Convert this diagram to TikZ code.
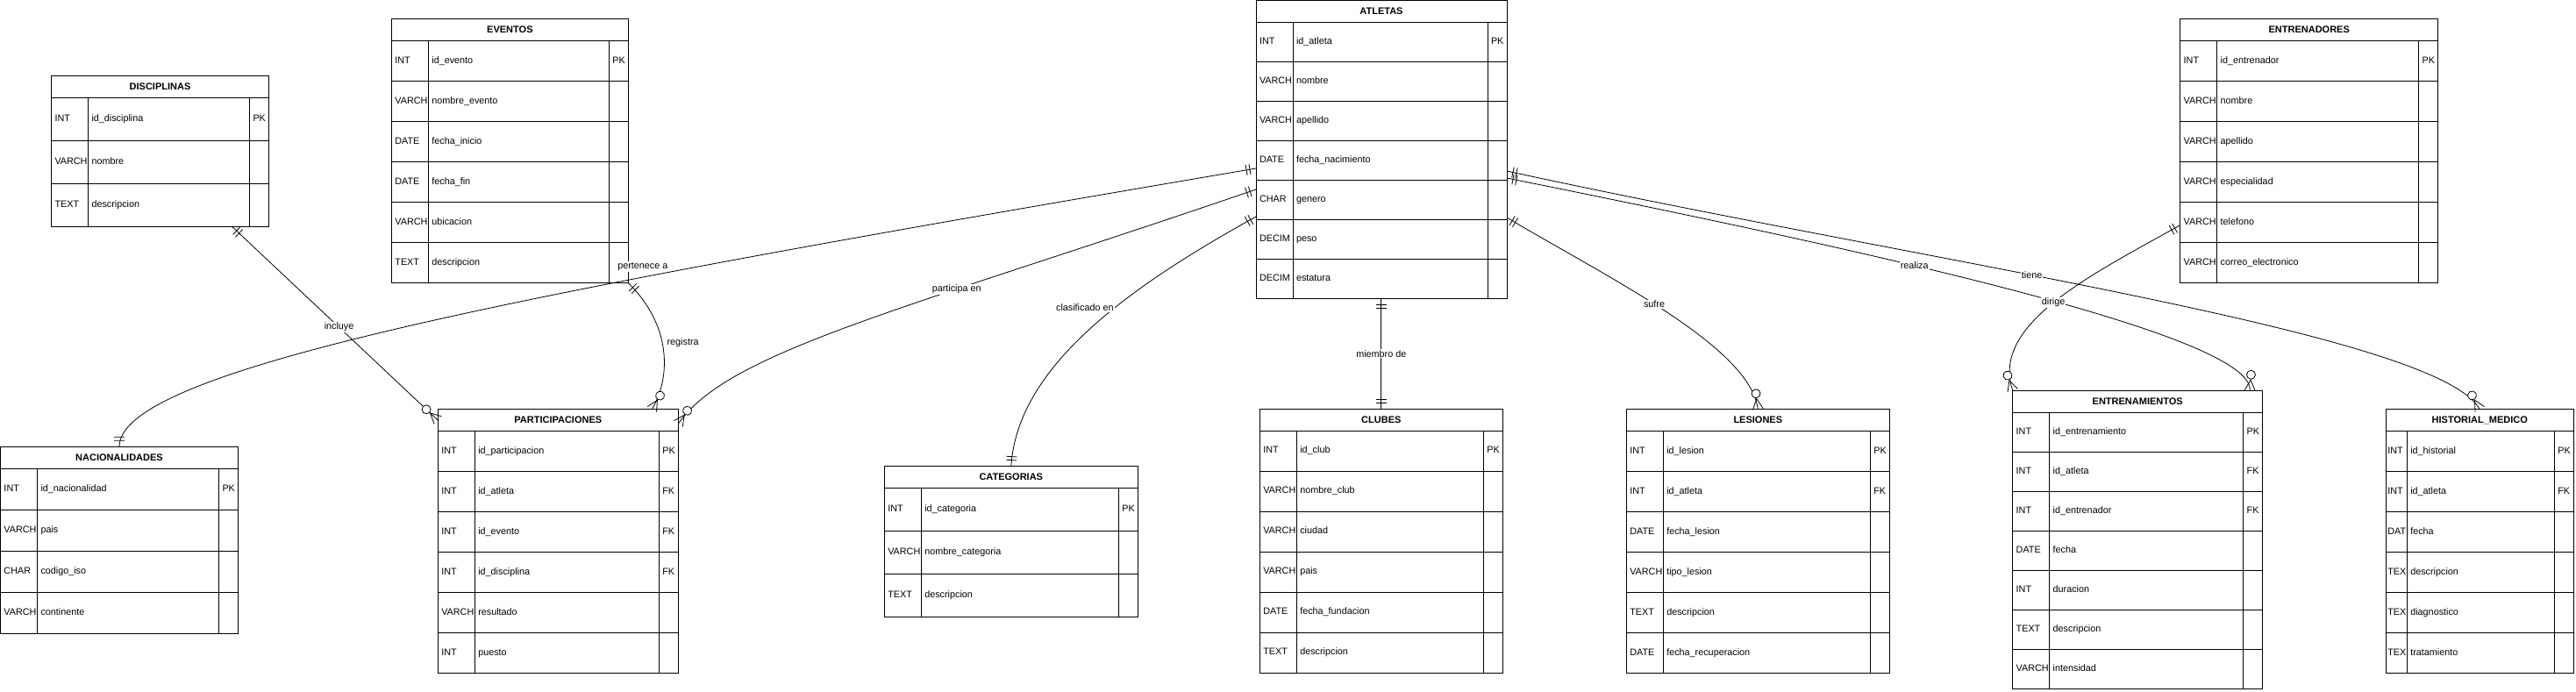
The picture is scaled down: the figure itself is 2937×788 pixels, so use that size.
\documentclass[tikz,border=0pt]{standalone}
\usepackage{fontspec}
\setmainfont{Liberation Sans}
\usetikzlibrary{positioning,decorations.markings}

\begin{document}
\begin{tikzpicture}[
        x=1pt, y=-1pt,
        font=\fontsize{10.8}{13}\selectfont,
        tablehead/.style={
            draw, line width=0.9pt, anchor=north west, outer sep=0pt,
            minimum height=25pt, font=\fontsize{11}{13}\selectfont\bfseries
        },
        cell/.style={
            draw, line width=0.9pt, outer sep=0pt,
            inner xsep=4pt, inner ysep=0pt, align=left,
            text height=8pt, text depth=2.5pt
        },
        tcell/.style={cell, anchor=north west},
        rel/.style={line width=0.8pt},
        lbl/.style={fill=white, inner sep=1pt},
        mand start/.style={postaction={decorate, decoration={markings,
            mark=at position 0.1pt with {\draw[line width=0.8pt] (7pt,-6pt) -- (7pt,6pt) (11pt,-6pt) -- (11pt,6pt);}}}},
        mand end/.style={postaction={decorate, decoration={markings,
            mark=at position -0.1pt with {\draw[line width=0.8pt] (-7pt,-6pt) -- (-7pt,6pt) (-11pt,-6pt) -- (-11pt,6pt);}}}},
        many end/.style={postaction={decorate, decoration={markings,
            mark=at position -0.1pt with {\draw[line width=0.8pt] (0pt,-6pt) -- (-12pt,0pt) -- (0pt,6pt);
                \draw[line width=0.8pt, fill=white] (-18pt,0pt) circle (5pt);}}}}
    ]
    \useasboundingbox (0,0) rectangle (2937,788);

    % DISCIPLINAS
    \node[tablehead, minimum width=248pt] (disc) at (58.5,86.3) {DISCIPLINAS};
    \foreach \ty/\fd/\ky [count=\i] in {INT/id\_disciplina/PK, VARCH/nombre/{}, TEXT/descripcion/{}} {
        \node[tcell, text width=34pt, minimum height=49pt] (disc-t\i) at ([yshift={-(\i-1)*49pt}]disc.south west) {\ty};
        \node[cell, text width=176pt, minimum height=49pt, right=0pt of disc-t\i] (disc-f\i) {\fd};
        \node[cell, text width=14pt, minimum height=49pt, right=0pt of disc-f\i] (disc-k\i) {\ky};
    }

    % EVENTOS
    \node[tablehead, minimum width=270pt] (evento) at (446.4,21.7) {EVENTOS};
    \foreach \ty/\fd/\ky [count=\i] in {INT/id\_evento/PK, VARCH/nombre\_evento/{}, DATE/fecha\_inicio/{},
        DATE/fecha\_fin/{}, VARCH/ubicacion/{}, TEXT/descripcion/{}} {
        \node[tcell, text width=34pt, minimum height=46pt] (evento-t\i) at ([yshift={-(\i-1)*46pt}]evento.south west) {\ty};
        \node[cell, text width=198pt, minimum height=46pt, right=0pt of evento-t\i] (evento-f\i) {\fd};
        \node[cell, text width=14pt, minimum height=46pt, right=0pt of evento-f\i] (evento-k\i) {\ky};
    }

    % ATLETAS
    \node[tablehead, minimum width=286pt] (atleta) at (1432,0.5) {ATLETAS};
    \foreach \ty/\fd/\ky [count=\i] in {INT/id\_atleta/PK, VARCH/nombre/{}, VARCH/apellido/{},
        DATE/fecha\_nacimiento/{}, CHAR/genero/{}, DECIM/peso/{}, DECIM/estatura/{}} {
        \node[tcell, text width=34pt, minimum height=45pt] (atleta-t\i) at ([yshift={-(\i-1)*45pt}]atleta.south west) {\ty};
        \node[cell, text width=214pt, minimum height=45pt, right=0pt of atleta-t\i] (atleta-f\i) {\fd};
        \node[cell, text width=14pt, minimum height=45pt, right=0pt of atleta-f\i] (atleta-k\i) {\ky};
    }

    % ENTRENADORES
    \node[tablehead, minimum width=294pt] (coach) at (2485.7,21.7) {ENTRENADORES};
    \foreach \ty/\fd/\ky [count=\i] in {INT/id\_entrenador/PK, VARCH/nombre/{}, VARCH/apellido/{},
        VARCH/especialidad/{}, VARCH/telefono/{}, VARCH/correo\_electronico/{}} {
        \node[tcell, text width=34pt, minimum height=46pt] (coach-t\i) at ([yshift={-(\i-1)*46pt}]coach.south west) {\ty};
        \node[cell, text width=222pt, minimum height=46pt, right=0pt of coach-t\i] (coach-f\i) {\fd};
        \node[cell, text width=14pt, minimum height=46pt, right=0pt of coach-f\i] (coach-k\i) {\ky};
    }

    % NACIONALIDADES
    \node[tablehead, minimum width=271pt] (nac) at (0.5,509.3) {NACIONALIDADES};
    \foreach \ty/\fd/\ky [count=\i] in {INT/id\_nacionalidad/PK, VARCH/pais/{}, CHAR/codigo\_iso/{}, VARCH/continente/{}} {
        \node[tcell, text width=34pt, minimum height=47pt] (nac-t\i) at ([yshift={-(\i-1)*47pt}]nac.south west) {\ty};
        \node[cell, text width=199pt, minimum height=47pt, right=0pt of nac-t\i] (nac-f\i) {\fd};
        \node[cell, text width=14pt, minimum height=47pt, right=0pt of nac-f\i] (nac-k\i) {\ky};
    }

    % PARTICIPACIONES
    \node[tablehead, minimum width=274pt] (part) at (499.3,466.7) {PARTICIPACIONES};
    \foreach \ty/\fd/\ky [count=\i] in {INT/id\_participacion/PK, INT/id\_atleta/FK, INT/id\_evento/FK,
        INT/id\_disciplina/FK, VARCH/resultado/{}, INT/puesto/{}} {
        \node[tcell, text width=34pt, minimum height=46pt] (part-t\i) at ([yshift={-(\i-1)*46pt}]part.south west) {\ty};
        \node[cell, text width=202pt, minimum height=46pt, right=0pt of part-t\i] (part-f\i) {\fd};
        \node[cell, text width=14pt, minimum height=46pt, right=0pt of part-f\i] (part-k\i) {\ky};
    }

    % CATEGORIAS
    \node[tablehead, minimum width=289pt] (cat) at (1008.3,531.7) {CATEGORIAS};
    \foreach \ty/\fd/\ky [count=\i] in {INT/id\_categoria/PK, VARCH/nombre\_categoria/{}, TEXT/descripcion/{}} {
        \node[tcell, text width=34pt, minimum height=49pt] (cat-t\i) at ([yshift={-(\i-1)*49pt}]cat.south west) {\ty};
        \node[cell, text width=217pt, minimum height=49pt, right=0pt of cat-t\i] (cat-f\i) {\fd};
        \node[cell, text width=14pt, minimum height=49pt, right=0pt of cat-f\i] (cat-k\i) {\ky};
    }

    % CLUBES
    \node[tablehead, minimum width=277pt] (club) at (1436.3,466) {CLUBES};
    \foreach \ty/\fd/\ky [count=\i] in {INT/id\_club/PK, VARCH/nombre\_club/{}, VARCH/ciudad/{},
        VARCH/pais/{}, DATE/fecha\_fundacion/{}, TEXT/descripcion/{}} {
        \node[tcell, text width=34pt, minimum height=46pt] (club-t\i) at ([yshift={-(\i-1)*46pt}]club.south west) {\ty};
        \node[cell, text width=205pt, minimum height=46pt, right=0pt of club-t\i] (club-f\i) {\fd};
        \node[cell, text width=14pt, minimum height=46pt, right=0pt of club-f\i] (club-k\i) {\ky};
    }

    % LESIONES
    \node[tablehead, minimum width=300pt] (lesion) at (1854.3,466.7) {LESIONES};
    \foreach \ty/\fd/\ky [count=\i] in {INT/id\_lesion/PK, INT/id\_atleta/FK, DATE/fecha\_lesion/{},
        VARCH/tipo\_lesion/{}, TEXT/descripcion/{}, DATE/fecha\_recuperacion/{}} {
        \node[tcell, text width=34pt, minimum height=46pt] (lesion-t\i) at ([yshift={-(\i-1)*46pt}]lesion.south west) {\ty};
        \node[cell, text width=228pt, minimum height=46pt, right=0pt of lesion-t\i] (lesion-f\i) {\fd};
        \node[cell, text width=14pt, minimum height=46pt, right=0pt of lesion-f\i] (lesion-k\i) {\ky};
    }

    % ENTRENAMIENTOS
    \node[tablehead, minimum width=285pt] (train) at (2294.7,445.3) {ENTRENAMIENTOS};
    \foreach \ty/\fd/\ky [count=\i] in {INT/id\_entrenamiento/PK, INT/id\_atleta/FK, INT/id\_entrenador/FK,
        DATE/fecha/{}, INT/duracion/{}, TEXT/descripcion/{}, VARCH/intensidad/{}} {
        \node[tcell, text width=34pt, minimum height=45pt] (train-t\i) at ([yshift={-(\i-1)*45pt}]train.south west) {\ty};
        \node[cell, text width=213pt, minimum height=45pt, right=0pt of train-t\i] (train-f\i) {\fd};
        \node[cell, text width=14pt, minimum height=45pt, right=0pt of train-f\i] (train-k\i) {\ky};
    }

    % HISTORIAL_MEDICO
    \node[tablehead, minimum width=214pt] (hist) at (2720.3,466.7) {HISTORIAL\_MEDICO};
    \foreach \ty/\fd/\ky [count=\i] in {INT/id\_historial/PK, INT/id\_atleta/FK, DAT/fecha/{},
        TEX/descripcion/{}, TEX/diagnostico/{}, TEX/tratamiento/{}} {
        \node[tcell, inner xsep=2pt, text width=20pt, minimum height=46pt] (hist-t\i) at ([yshift={-(\i-1)*46pt}]hist.south west) {\ty};
        \node[cell, text width=160pt, minimum height=46pt, right=0pt of hist-t\i] (hist-f\i) {\fd};
        \node[cell, text width=14pt, minimum height=46pt, right=0pt of hist-f\i] (hist-k\i) {\ky};
    }

    % relationships
    \draw[rel, mand start, many end] ([xshift=72pt]disc-f3.south) -- (part.west)
        node[lbl, pos=0.52]{incluye};

    \draw[rel, mand start, mand end] ([yshift=-9pt]atleta-t4.west) .. controls +(-830,141) and +(0,-89) ..
        (nac.north) node[lbl, pos=0.33, yshift=12pt]{pertenece a};

    \draw[rel, mand start, many end] (evento-k6.south east) .. controls +(49,48) and +(22,-37) ..
        ([xshift=107pt]part.north) node[lbl, pos=0.45, anchor=west, xshift=4pt]{registra};

    \draw[rel, mand start, many end] ([yshift=12pt]atleta-t5.west) .. controls +(-400,137) and +(57,-83) ..
        ([yshift=-4pt]part.east) node[lbl, pos=0.34]{participa en};

    \draw[rel, mand start, mand end] ([yshift=-19pt]atleta-t5.west) .. controls +(-150,83) and +(7,-112) ..
        (cat.north) node[lbl, pos=0.4, anchor=east]{clasificado en};

    \draw[rel, mand start, mand end] (atleta-f7.south -| club.north) -- (club.north)
        node[lbl, midway]{miembro de};

    \draw[rel, mand start, many end] ([yshift=-20pt]atleta-k5.east) .. controls +(112,67) and +(-9,-72) ..
        (lesion.north) node[lbl, pos=0.46]{sufre};

    \draw[rel, mand start, many end] ([yshift=-20pt]atleta-k4.east) .. controls +(382,77) and +(5,-65) ..
        ([xshift=128pt]train.north) node[lbl, pos=0.4]{realiza};

    \draw[rel, mand start, many end] ([yshift=-12pt]atleta-k4.east) .. controls +(482,105) and +(-48,-87) ..
        (hist.north) node[lbl, pos=0.41]{tiene};

    \draw[rel, mand start, many end] ([yshift=-3pt]coach-t5.west) .. controls +(-106,59) and +(-25,-75) ..
        (train.north west) node[lbl, pos=0.5]{dirige};

\end{tikzpicture}
\end{document}
